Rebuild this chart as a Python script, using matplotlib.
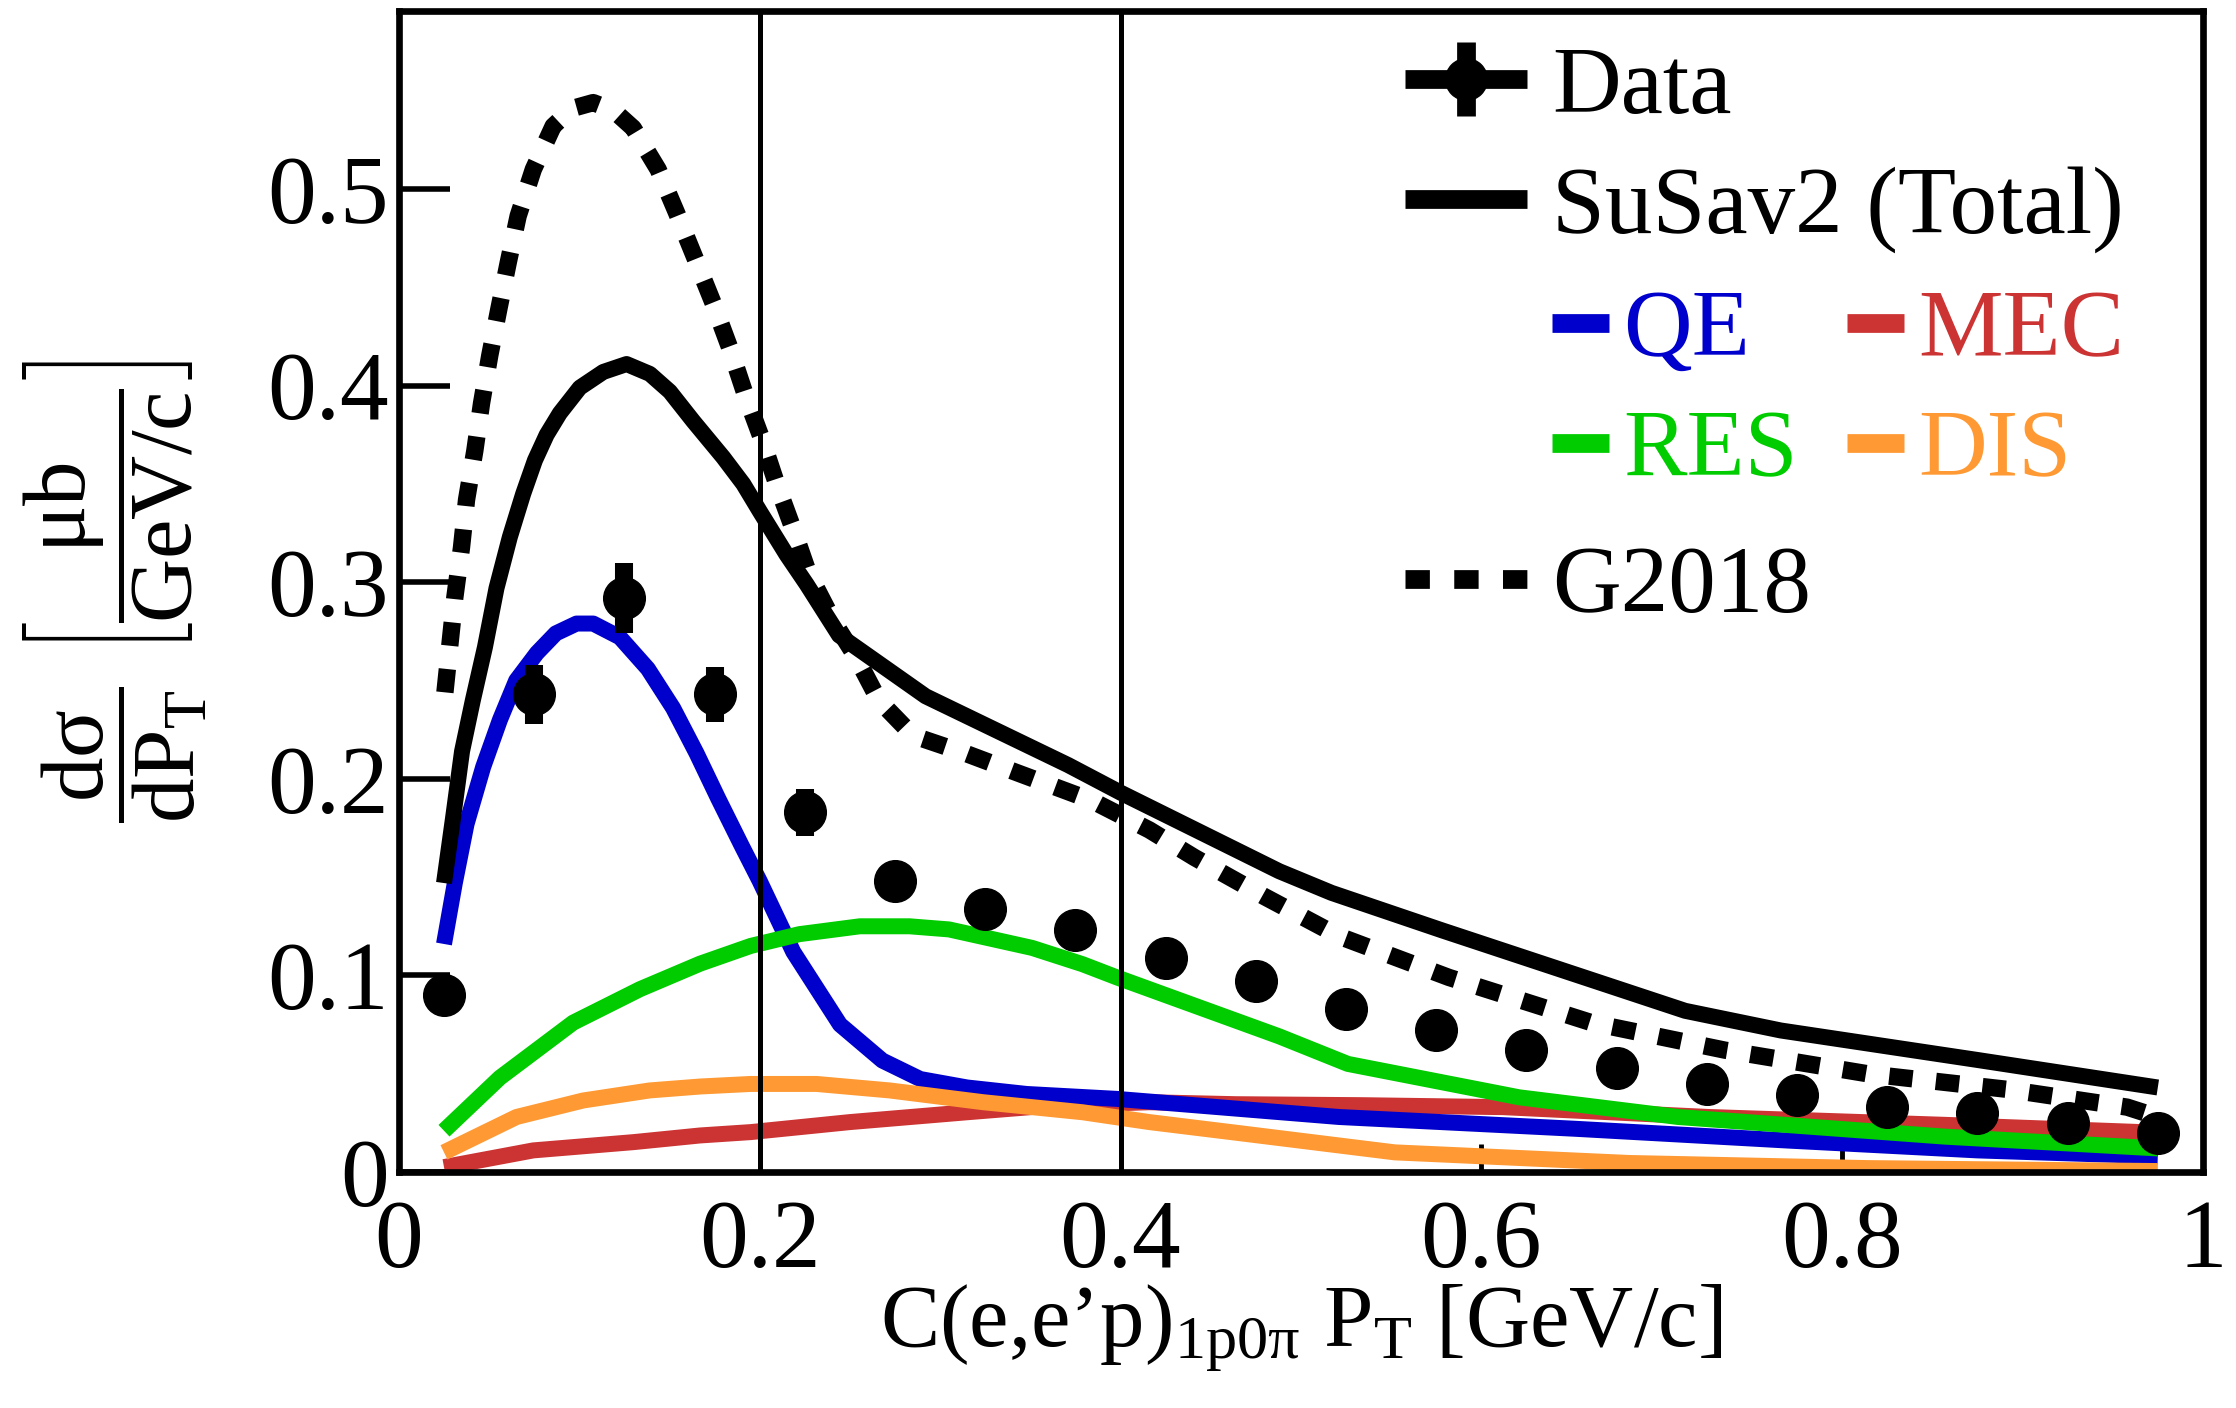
import matplotlib
matplotlib.use('Agg')
import matplotlib.pyplot as plt
from matplotlib.lines import Line2D
from matplotlib.legend_handler import HandlerTuple
import numpy as np

plt.rcParams['font.family'] = ['Liberation Serif', 'DejaVu Serif']
plt.rcParams['mathtext.fontset'] = 'custom'
plt.rcParams['mathtext.rm'] = 'Liberation Serif'
plt.rcParams['mathtext.it'] = 'Liberation Serif:italic'
plt.rcParams['mathtext.bf'] = 'Liberation Serif:bold'

# ---------------- data ----------------
data_x = [0.025, 0.075, 0.125, 0.175, 0.225, 0.275, 0.325, 0.375, 0.425, 0.475,
          0.525, 0.575, 0.625, 0.675, 0.725, 0.775, 0.825, 0.875, 0.925, 0.975]
data_y = [0.090, 0.243, 0.292, 0.243, 0.183, 0.148, 0.134, 0.123, 0.109, 0.097,
          0.083, 0.072, 0.062, 0.053, 0.045, 0.039, 0.033, 0.030, 0.025, 0.020]
data_err = [0.008, 0.015, 0.018, 0.014, 0.012, 0.008, 0.007, 0.007, 0.006, 0.006,
            0.005, 0.005, 0.004, 0.004, 0.004, 0.003, 0.003, 0.003, 0.003, 0.003]

susav2_x = [0.025, 0.030, 0.035, 0.041, 0.0477, 0.0541, 0.0615, 0.0689, 0.0754, 0.0819,
            0.0892, 0.1003, 0.1133, 0.1262, 0.1391, 0.1502, 0.1631, 0.1798, 0.1909, 0.2001,
            0.2149, 0.226, 0.244, 0.292, 0.371, 0.400, 0.488, 0.517, 0.578, 0.713,
            0.766, 0.875, 0.975]
susav2_y = [0.147, 0.180, 0.214, 0.240, 0.267, 0.297, 0.323, 0.345, 0.362, 0.375,
            0.386, 0.399, 0.407, 0.411, 0.406, 0.397, 0.382, 0.3635, 0.350, 0.336,
            0.314, 0.299, 0.273, 0.242, 0.207, 0.193, 0.153, 0.142, 0.123, 0.082,
            0.072, 0.057, 0.043]

g2018_x = [0.0255, 0.0283, 0.031, 0.0347, 0.0375, 0.0421, 0.0458, 0.0504, 0.0554, 0.0606,
           0.0661, 0.0745, 0.0855, 0.096, 0.1077, 0.119, 0.1299, 0.1437, 0.1539, 0.1641,
           0.1742, 0.1835, 0.1918, 0.2011, 0.2094, 0.2186, 0.2269, 0.241, 0.254, 0.266,
           0.285, 0.314, 0.343, 0.384, 0.416, 0.441, 0.480, 0.521, 0.582, 0.661,
           0.735, 0.814, 0.892, 0.958, 0.975]
g2018_y = [0.244, 0.2686, 0.2923, 0.3177, 0.342, 0.367, 0.391, 0.4155, 0.439, 0.4626,
           0.4863, 0.510, 0.532, 0.541, 0.544, 0.540, 0.531, 0.510, 0.488, 0.465,
           0.442, 0.419, 0.396, 0.373, 0.350, 0.327, 0.305, 0.280, 0.261, 0.240,
           0.222, 0.213, 0.203, 0.189, 0.174, 0.160, 0.140, 0.120, 0.099, 0.076,
           0.062, 0.050, 0.042, 0.033, 0.028]

qe_x = [0.025, 0.031, 0.0375, 0.0467, 0.056, 0.065, 0.0765, 0.087, 0.0985, 0.1077,
        0.1225, 0.138, 0.152, 0.165, 0.177, 0.190, 0.200, 0.2186, 0.2445, 0.268,
        0.289, 0.315, 0.348, 0.398, 0.521, 0.652, 0.770, 0.875, 0.975]
qe_y = [0.116, 0.147, 0.177, 0.206, 0.230, 0.250, 0.264, 0.274, 0.279, 0.279,
        0.272, 0.256, 0.236, 0.213, 0.190, 0.166, 0.148, 0.112, 0.075, 0.0567,
        0.0473, 0.043, 0.0397, 0.0372, 0.028, 0.022, 0.016, 0.011, 0.008]

mec_x = [0.025, 0.0745, 0.130, 0.167, 0.195, 0.250, 0.315, 0.361, 0.416, 0.464,
         0.534, 0.612, 0.726, 0.857, 0.975]
mec_y = [0.0025, 0.011, 0.0152, 0.0186, 0.0203, 0.0254, 0.0304, 0.0338, 0.0355, 0.0345,
         0.034, 0.033, 0.028, 0.024, 0.020]

res_x = [0.025, 0.056, 0.0966, 0.1336, 0.167, 0.195, 0.222, 0.2555, 0.283, 0.305,
         0.351, 0.379, 0.398, 0.488, 0.526, 0.621, 0.709, 0.857, 0.975]
res_y = [0.021, 0.048, 0.076, 0.093, 0.106, 0.115, 0.121, 0.125, 0.125, 0.1234,
         0.114, 0.1057, 0.099, 0.069, 0.055, 0.038, 0.028, 0.018, 0.012]

dis_x = [0.025, 0.0652, 0.1022, 0.139, 0.167, 0.195, 0.2315, 0.272, 0.324, 0.379,
         0.416, 0.464, 0.552, 0.682, 0.814, 0.975]
dis_y = [0.010, 0.028, 0.0364, 0.0415, 0.0435, 0.0448, 0.0448, 0.0415, 0.0355, 0.0304,
         0.0254, 0.020, 0.010, 0.0046, 0.002, 0.0005]

x_ticks = [0, 0.2, 0.4, 0.6, 0.8, 1.0]
x_ticklabels = ['0', '0.2', '0.4', '0.6', '0.8', '1']
y_ticks = [0, 0.1, 0.2, 0.3, 0.4, 0.5]
y_ticklabels = ['0', '0.1', '0.2', '0.3', '0.4', '0.5']
vlines_x = [0.2, 0.4]

c_qe = '#0000CC'
c_mec = '#CC3333'
c_res = '#00CC00'
c_dis = '#FF9933'

# ---------------- figure ----------------
fig = plt.figure(figsize=(22.36, 14.08), dpi=100)
ax = fig.add_axes([0.1784, 0.1676, 0.8068, 0.8246])

LW = 11.5
kw = dict(lw=LW, solid_capstyle='butt', solid_joinstyle='round')
ax.plot(mec_x, mec_y, color=c_mec, zorder=2, **kw)
ax.plot(qe_x, qe_y, color=c_qe, zorder=2.1, **kw)
ax.plot(res_x, res_y, color=c_res, zorder=2.2, **kw)
ax.plot(dis_x, dis_y, color=c_dis, zorder=2.3, **kw)
ax.plot(g2018_x, g2018_y, color='k', lw=12.5, ls=(0, (1.35, 1.35)),
        dash_capstyle='butt', zorder=3)
ax.plot(susav2_x, susav2_y, color='k', zorder=3.1, **kw)

for xv in vlines_x:
    ax.axvline(xv, color='k', lw=3.6, zorder=4)

data_cont = ax.errorbar(data_x, data_y, yerr=data_err, fmt='o', color='k',
                        ms=30, elinewidth=13, capsize=0, zorder=10)

ax.set_xlim(0, 1)
ax.set_ylim(0, 0.5906)
ax.set_xticks(x_ticks)
ax.set_xticklabels(x_ticklabels)
ax.set_yticks(y_ticks)
ax.set_yticklabels(y_ticklabels)
ax.minorticks_off()
ax.tick_params(axis='y', direction='in', length=37, width=4, pad=7,
               labelsize=70, right=False)
ax.tick_params(axis='x', direction='in', length=20, width=3.5, pad=20,
               labelsize=70, top=False)
for s in ax.spines.values():
    s.set_linewidth(4.8)

ax.set_xlabel(r'C(e,e’p)$_{\mathrm{1p0π}}$ P$_{\mathrm{T}}$ [GeV/c]', fontsize=64)
ax.xaxis.set_label_coords(0.5, -0.095)
ax.set_ylabel(r'$\dfrac{\mathrm{dσ}}{\mathrm{dP_{T}}}\ \left[\dfrac{\mathrm{μb}}{\mathrm{GeV/c}}\right]$',
              fontsize=64)
ax.yaxis.set_label_coords(-0.105, 0.5)

# ---------------- legends ----------------
FS = 68.5
LLW = 13.5
h_dataline = Line2D([], [], color='k', lw=LLW, marker='o', ms=30,
                    solid_capstyle='butt')
h_databar = Line2D([], [], color='k', ls='', marker='|', ms=53, mew=LLW)
h_total = Line2D([], [], color='k', lw=LLW, solid_capstyle='butt')
legA = ax.legend([(h_databar, h_dataline), h_total],
                 ['Data', 'SuSav2 (Total)'],
                 handler_map={tuple: HandlerTuple(ndivide=1, pad=0)},
                 loc='center left', bbox_to_anchor=(0.5576, 0.8807),
                 frameon=False, fontsize=FS, handlelength=1.28,
                 handletextpad=0.27, labelspacing=0.35, borderpad=0,
                 borderaxespad=0)
ax.add_artist(legA)

comp = [(c_qe, 'QE'), (c_res, 'RES'), (c_mec, 'MEC'), (c_dis, 'DIS')]
legB = ax.legend([Line2D([], [], color=c, lw=LLW, solid_capstyle='butt') for c, _ in comp],
                 [n for _, n in comp], ncol=2,
                 loc='center left', bbox_to_anchor=(0.639, 0.671),
                 frameon=False, fontsize=FS, handlelength=0.6,
                 handletextpad=0.15, columnspacing=0.52, labelspacing=0.36,
                 borderpad=0, borderaxespad=0, labelcolor='linecolor')
ax.add_artist(legB)

legC = ax.legend([Line2D([], [], color='k', lw=LLW, ls=(0, (1.3, 1.3)),
                         dash_capstyle='butt')],
                 ['G2018'], loc='center left', bbox_to_anchor=(0.5576, 0.502),
                 frameon=False, fontsize=FS, handlelength=1.28,
                 handletextpad=0.27, borderpad=0, borderaxespad=0)

fig.savefig('out.png', dpi=100)
